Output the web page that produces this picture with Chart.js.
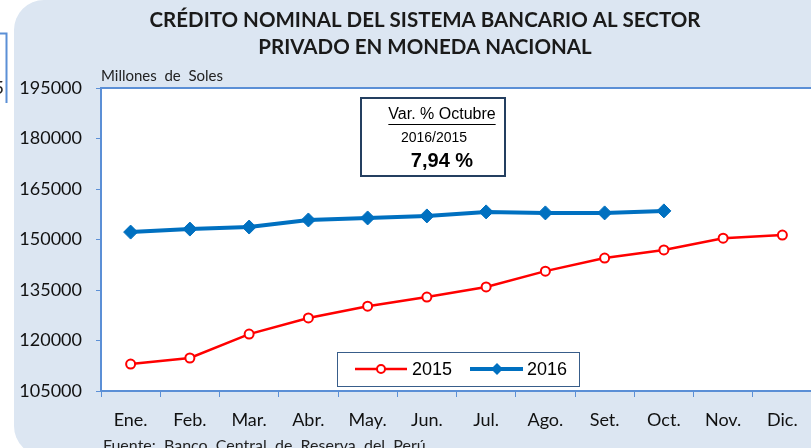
<!DOCTYPE html>
<html>
<head>
<meta charset="utf-8">
<script src="https://cdn.jsdelivr.net/npm/chart.js@4/dist/chart.umd.min.js"></script>
<style>
  html, body { margin: 0; padding: 0; overflow: hidden; background: #fff; }
  #wrap { width: 820px; height: 448px; }
</style>
</head>
<body>
<div id="wrap"><canvas id="credito" width="820" height="448"></canvas></div>
<script>
// values in millones de soles
const months = ['Ene.', 'Feb.', 'Mar.', 'Abr.', 'May.', 'Jun.', 'Jul.', 'Ago.', 'Set.', 'Oct.', 'Nov.', 'Dic.'];
const credito2015 = [113000, 114800, 121900, 126700, 130200, 132900, 135900, 140600, 144500, 146900, 150400, 151300];
const credito2016 = [152200, 153100, 153700, 155800, 156400, 157000, 158200, 157900, 157900, 158500, null, null];
const yMin = 105000, yMax = 195000, yStep = 15000;

const BLUE_AXIS = '#5b8fd6';
const PANEL = '#dce6f2';

function roundRect(ctx, x, y, w, h, r) {
    ctx.beginPath();
    ctx.moveTo(x + r, y);
    ctx.lineTo(x + w - r, y);
    ctx.arcTo(x + w, y, x + w, y + r, r);
    ctx.lineTo(x + w, y + h - r);
    ctx.arcTo(x + w, y + h, x + w - r, y + h, r);
    ctx.lineTo(x + r, y + h);
    ctx.arcTo(x, y + h, x, y + h - r, r);
    ctx.lineTo(x, y + r);
    ctx.arcTo(x, y, x + r, y, r);
    ctx.closePath();
}

const decor = {
    id: 'decor',
    beforeDraw(chart) {
        const ctx = chart.ctx;
        const a = chart.chartArea;
        ctx.save();
        ctx.fillStyle = '#fff';
        ctx.fillRect(0, 0, chart.width, chart.height);

        // bit of a neighbouring box cut off on the left
        ctx.strokeStyle = BLUE_AXIS;
        ctx.lineWidth = 2;
        ctx.beginPath();
        ctx.moveTo(0, 33.5);
        ctx.lineTo(6.5, 33.5);
        ctx.lineTo(6.5, 103);
        ctx.stroke();
        ctx.fillStyle = '#222';
        ctx.font = '18px Lato';
        ctx.textAlign = 'right';
        ctx.textBaseline = 'middle';
        ctx.fillText('5', 4, 88);

        // panel
        ctx.fillStyle = PANEL;
        roundRect(ctx, 14, 0, 900, 456, 30);
        ctx.fill();

        // plot background
        ctx.fillStyle = '#fff';
        ctx.fillRect(a.left, a.top, a.right - a.left, a.bottom - a.top);

        // title
        ctx.fillStyle = '#1a1a1a';
        ctx.textAlign = 'center';
        ctx.font = 'bold 20.5px Lato';
        ctx.fillText('CRÉDITO NOMINAL DEL SISTEMA BANCARIO AL SECTOR', 425, 20);
        ctx.fillText('PRIVADO EN MONEDA NACIONAL', 425, 47);

        ctx.textAlign = 'left';
        ctx.font = '15px Lato';
        ctx.fillStyle = '#222';
        ctx.fillText('Millones  de  Soles', 101, 76);
        ctx.restore();
    },
    afterDraw(chart) {
        const ctx = chart.ctx;
        const a = chart.chartArea;
        ctx.save();

        // top border of the plot
        ctx.strokeStyle = BLUE_AXIS;
        ctx.lineWidth = 2;
        ctx.beginPath();
        ctx.moveTo(a.left, a.top);
        ctx.lineTo(chart.width, a.top);
        ctx.stroke();

        // variation box
        ctx.fillStyle = '#fff';
        ctx.fillRect(361, 98, 144, 78);
        ctx.strokeStyle = '#243f60';
        ctx.lineWidth = 2;
        ctx.strokeRect(361, 98, 144, 78);
        ctx.fillStyle = '#000';
        ctx.textAlign = 'center';
        ctx.textBaseline = 'middle';
        ctx.font = '16px "Liberation Sans", Arial';
        const t = 'Var. % Octubre';
        ctx.fillText(t, 442, 115);
        const tw = ctx.measureText(t).width;
        ctx.lineWidth = 1;
        ctx.strokeStyle = '#000';
        ctx.beginPath();
        ctx.moveTo(442 - tw / 2, 124.5);
        ctx.lineTo(442 + tw / 2, 124.5);
        ctx.stroke();
        ctx.font = '14px "Liberation Sans", Arial';
        ctx.fillText('2016/2015', 434, 138);
        ctx.font = 'bold 20px "Liberation Sans", Arial';
        ctx.fillText('7,94 %', 442, 161);

        // legend
        ctx.fillStyle = '#fff';
        ctx.fillRect(337.5, 352.5, 242, 34);
        ctx.strokeStyle = '#385d8a';
        ctx.lineWidth = 1;
        ctx.strokeRect(337.5, 352.5, 242, 34);
        const ly = 369;
        const ds = chart.data.datasets;
        // 2015
        ctx.strokeStyle = ds[0].borderColor;
        ctx.lineWidth = 2.5;
        ctx.beginPath();
        ctx.moveTo(355, ly);
        ctx.lineTo(407, ly);
        ctx.stroke();
        ctx.fillStyle = '#fff';
        ctx.lineWidth = 2;
        ctx.beginPath();
        ctx.arc(381, ly, 4, 0, Math.PI * 2);
        ctx.fill();
        ctx.stroke();
        // 2016
        ctx.strokeStyle = ds[1].borderColor;
        ctx.lineWidth = 4;
        ctx.beginPath();
        ctx.moveTo(470, ly);
        ctx.lineTo(523, ly);
        ctx.stroke();
        ctx.fillStyle = ds[1].borderColor;
        ctx.beginPath();
        ctx.moveTo(497, ly - 6);
        ctx.lineTo(503, ly);
        ctx.lineTo(497, ly + 6);
        ctx.lineTo(491, ly);
        ctx.closePath();
        ctx.fill();
        ctx.fillStyle = '#000';
        ctx.textAlign = 'left';
        ctx.font = '18px "Liberation Sans", Arial';
        ctx.fillText(ds[0].label, 412, ly + 1);
        ctx.fillText(ds[1].label, 527, ly + 1);

        // source, cut off at the bottom
        ctx.font = '16px Lato';
        ctx.fillStyle = '#222';
        ctx.fillText('Fuente:  Banco  Central  de  Reserva  del  Perú', 103, 446);
        ctx.restore();
    }
};

const ctx = document.getElementById('credito').getContext('2d');
new Chart(ctx, {
    type: 'line',
    data: {
        labels: months,
        datasets: [
            {
                label: '2015',
                data: credito2015,
                borderColor: '#ff0000',
                borderWidth: 2.5,
                pointStyle: 'circle',
                pointRadius: 4.5,
                pointBorderWidth: 2,
                pointBackgroundColor: '#fff',
                pointBorderColor: '#ff0000',
                tension: 0
            },
            {
                label: '2016',
                data: credito2016,
                borderColor: '#0070c0',
                borderWidth: 4,
                pointStyle: 'rectRot',
                pointRadius: 7,
                pointBorderWidth: 1,
                pointBackgroundColor: '#0070c0',
                pointBorderColor: '#0070c0',
                tension: 0
            }
        ]
    },
    options: {
        responsive: false,
        animation: false,
        layout: { padding: { left: 0, right: 8, top: 88, bottom: 0 } },
        plugins: { legend: { display: false }, title: { display: false }, tooltip: { enabled: false } },
        scales: {
            x: {
                offset: true,
                grid: { offset: true, drawOnChartArea: false, drawTicks: true, tickLength: 6, color: BLUE_AXIS },
                border: { color: BLUE_AXIS, width: 2 },
                ticks: { color: '#111', font: { family: 'Lato', size: 18 }, padding: 12, maxRotation: 0, autoSkip: false },
                afterFit(scale) { scale.height = 57; }
            },
            y: {
                min: yMin,
                max: yMax,
                grid: { drawOnChartArea: false, drawTicks: true, tickLength: 5, color: BLUE_AXIS },
                border: { color: BLUE_AXIS, width: 2 },
                ticks: {
                    stepSize: yStep, color: '#111', font: { family: 'Lato', size: 18 }, padding: 14,
                    callback: (v) => String(v)
                },
                afterFit(scale) { scale.width = 101; }
            }
        }
    },
    plugins: [decor]
});
</script>
</body>
</html>
